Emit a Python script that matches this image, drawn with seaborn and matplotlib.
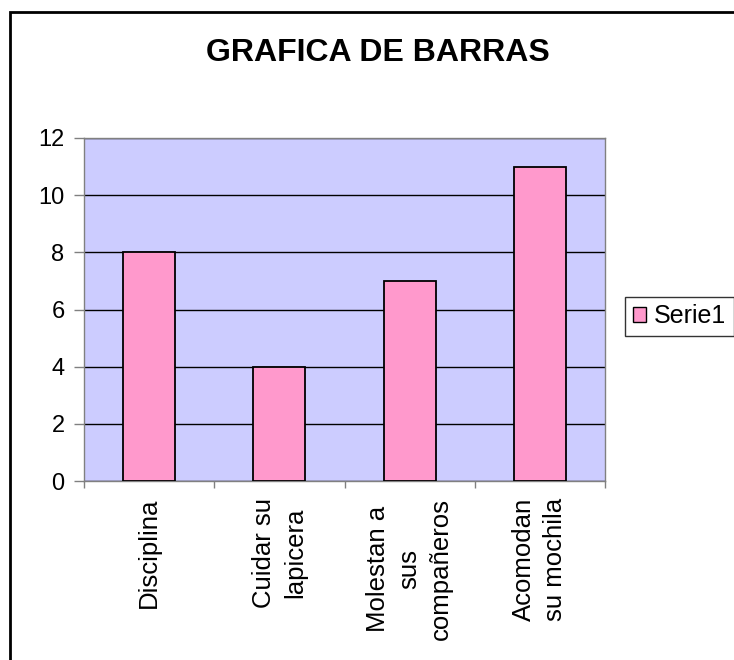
import matplotlib
matplotlib.use("Agg")
import matplotlib.pyplot as plt
import seaborn as sns
from matplotlib.patches import Rectangle
from matplotlib.ticker import MultipleLocator, FixedLocator

categorias = ["Disciplina", "Cuidar su\nlapicera", "Molestan a\nsus\ncompañeros", "Acomodan\nsu mochila"]
valores = [8, 4, 7, 11]
serie = "Serie1"

sns.set_style("white")
plt.rcParams["font.family"] = ["Liberation Sans", "DejaVu Sans"]
plt.rcParams["text.color"] = "black"
plt.rcParams["xtick.labelcolor"] = "black"
plt.rcParams["ytick.labelcolor"] = "black"

fig = plt.figure(figsize=(7.34, 6.6), dpi=100)
ax = fig.add_axes([84 / 734, 1 - 481 / 660, 521 / 734, 343 / 660])
ax.set_facecolor("#CCCCFF")

sns.barplot(x=categorias, y=valores, color="#FF99CC", saturation=1,
            edgecolor="black", linewidth=1.3, width=0.4, ax=ax, zorder=3)

ax.set_ylim(0, 12)
ax.set_xlim(-0.5, len(categorias) - 0.5)
ax.yaxis.set_major_locator(MultipleLocator(2))
ax.grid(axis="y", color="black", linewidth=1, zorder=1)
ax.set_axisbelow(True)
for s in ax.spines.values():
    s.set_color("#808080")
    s.set_linewidth(1)

ax.tick_params(axis="y", direction="out", length=7, width=1, color="#808080",
               labelsize=17, pad=7, left=True)
ax.tick_params(axis="x", which="major", length=0, pad=12)
ax.xaxis.set_minor_locator(FixedLocator([i - 0.5 for i in range(len(categorias) + 1)]))
ax.tick_params(axis="x", which="minor", direction="out", length=5, width=1,
               color="#808080", bottom=True)
ax.set_xticks(range(len(categorias)))
ax.set_xticklabels(categorias, rotation=90, ha="center", va="top",
                   multialignment="center", fontsize=18.5, linespacing=1.38)
ax.set_xlabel("")
ax.set_ylabel("")

fig.text(378 / 734, 1 - 53 / 660, "GRAFICA DE BARRAS", ha="center", va="center",
         fontsize=23, fontweight="bold")

handle = Rectangle((0, 0), 1, 1, facecolor="#FF99CC", edgecolor="black", linewidth=1)
fig.legend([handle], [serie], loc="center left", bbox_to_anchor=(625 / 734, 1 - 316 / 660),
           frameon=True, fancybox=False, edgecolor="black", fontsize=18,
           handlelength=0.55, handleheight=0.55, handletextpad=0.3, borderpad=0.3,
           borderaxespad=0)

fig.patches.append(Rectangle((10 / 734, -0.1), 1.2, 1 - 12 / 660 + 0.1,
                             transform=fig.transFigure, fill=False,
                             edgecolor="black", linewidth=2, zorder=10))

fig.savefig("out.png", dpi=100)
